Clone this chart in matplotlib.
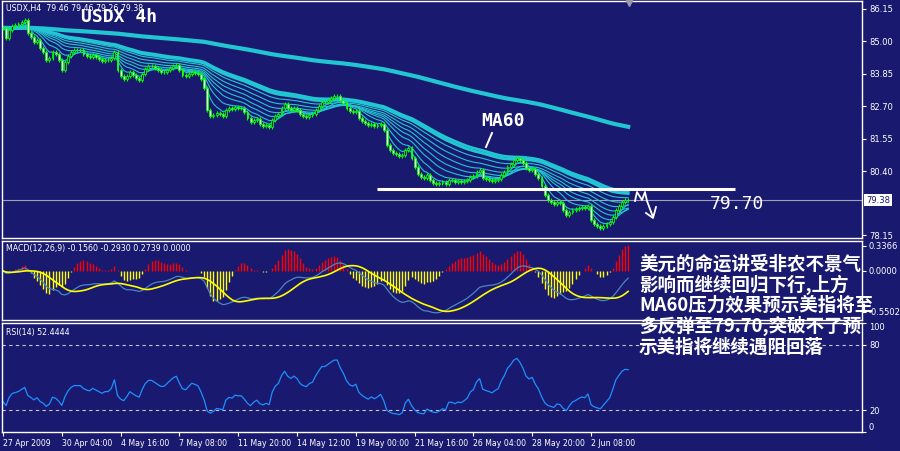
import numpy as np
import pandas as pd
import matplotlib
matplotlib.use('Agg')
import matplotlib.pyplot as plt
from matplotlib.lines import Line2D

# 4h closes of USDX, 27 Apr 2009 .. 3 Jun 2009
closes = [85.48, 85.12, 85.41, 85.55, 85.58, 85.62, 85.69, 85.76, 85.30, 85.16,
          84.98, 85.05, 84.77, 84.63, 84.35, 84.42, 84.63, 84.56, 84.35, 83.99,
          84.27, 84.49, 84.63, 84.70, 84.70, 84.70, 84.56, 84.49, 84.45, 84.52,
          84.45, 84.38, 84.31, 84.35, 84.35, 84.42, 84.63, 83.99, 83.78, 83.67,
          83.78, 83.92, 83.81, 83.71, 83.64, 83.85, 84.03, 84.13, 84.13, 84.06,
          83.99, 83.92, 83.92, 83.99, 84.06, 84.13, 84.17, 83.99, 83.81, 83.78,
          83.85, 83.92, 83.89, 83.85, 83.67, 83.35, 82.58, 82.36, 82.40, 82.47,
          82.43, 82.36, 82.58, 82.65, 82.61, 82.68, 82.65, 82.65, 82.50, 82.29,
          82.15, 82.22, 82.26, 82.08, 82.01, 82.04, 81.97, 82.22, 82.36, 82.43,
          82.65, 82.79, 82.65, 82.58, 82.65, 82.58, 82.43, 82.36, 82.33, 82.40,
          82.43, 82.58, 82.72, 82.86, 82.86, 82.93, 83.00, 83.07, 83.07, 82.93,
          82.82, 82.65, 82.54, 82.50, 82.54, 82.29, 82.19, 82.11, 82.04, 82.08,
          82.01, 82.04, 82.08, 81.87, 81.34, 81.16, 81.05, 81.02, 80.95, 80.98,
          81.16, 81.23, 80.88, 80.56, 80.31, 80.20, 80.17, 80.27, 80.10, 79.99,
          79.96, 79.99, 80.03, 79.96, 80.10, 80.10, 80.03, 80.06, 80.03, 80.06,
          80.10, 80.20, 80.24, 80.38, 80.45, 80.17, 80.13, 80.10, 80.06, 80.10,
          80.13, 80.27, 80.38, 80.56, 80.66, 80.81, 80.88, 80.81, 80.70, 80.52,
          80.45, 80.49, 80.31, 80.17, 79.88, 79.57, 79.39, 79.32, 79.25, 79.32,
          79.28, 79.04, 78.86, 78.96, 79.04, 79.07, 79.11, 79.14, 79.11, 79.18,
          78.68, 78.54, 78.47, 78.40, 78.47, 78.54, 78.61, 78.79, 79.04, 79.18,
          79.32, 79.39, 79.38]

date_ticks = [0, 19, 38, 57, 76, 95, 114, 133, 152, 171, 190]
date_labels = ['27 Apr 2009', '30 Apr 04:00', '4 May 16:00', '7 May 08:00',
               '11 May 20:00', '14 May 12:00', '19 May 00:00', '21 May 16:00',
               '26 May 04:00', '28 May 20:00', '2 Jun 08:00']
price_ticks = [86.15, 85.00, 83.85, 82.70, 81.55, 80.40, 78.15]
last_price = 79.38
resist_level = 79.77
macd_ticks = [0.3366, 0.0, -0.5502]
rsi_ticks = [100, 80, 20, 0]
rsi_levels = [80, 20]
fan_spans = [5, 10, 16, 22, 29, 37, 46]
thick_spans = [55, 60]
slow_span = 240
note_lines = ['美元的命运讲受非农不景气',
              '影响而继续回归下行,上方',
              'MA60压力效果预示美指将至',
              '多反弹至79.70,突破不了预',
              '示美指将继续遇阻回落']

BG = '#191970'
W, H = 900, 451


def fx(x):
    return x / W


def fy(y):
    return 1 - y / H


c = pd.Series(closes)
o = c.shift(1).fillna(c.iloc[0])
x = np.arange(len(c))
wick = 0.07

ema = lambda s, n: s.ewm(span=n, adjust=False).mean()
macd = ema(c, 12) - ema(c, 26)
signal = macd.rolling(9, min_periods=1).mean()
hist = 2 * (macd - signal)

# RSI(14), Wilder smoothing seeded with the mean of the first 14 moves
delta = c.diff()
gain = delta.clip(lower=0)
loss = -delta.clip(upper=0)
gain.iloc[0] = gain.iloc[1:15].mean()
loss.iloc[0] = loss.iloc[1:15].mean()
up = gain.ewm(alpha=1 / 14, adjust=False).mean()
dn = loss.ewm(alpha=1 / 14, adjust=False).mean()
rsi = 100 - 100 / (1 + up / dn)

fig = plt.figure(figsize=(9, 4.51), dpi=100, facecolor=BG)
ax = fig.add_axes([fx(2), fy(238), 860 / W, 237 / H])
ax_m = fig.add_axes([fx(2), fy(320), 860 / W, 79 / H])
ax_r = fig.add_axes([fx(2), fy(432), 860 / W, 109 / H])

for a in (ax, ax_m, ax_r):
    a.set_facecolor(BG)
    a.set_xlim(-0.32, 277.55)
    for sp in a.spines.values():
        sp.set_color('white')
        sp.set_linewidth(1)
    a.yaxis.tick_right()
    a.tick_params(axis='y', colors='white', labelsize=6, length=3, pad=2, width=0.8)
    a.tick_params(axis='x', bottom=False, labelbottom=False)

# main panel
cyan = '#22c6d2'
for n in fan_spans:
    ax.plot(x, ema(c, n), color=cyan, lw=0.8, zorder=2)
for n in thick_spans:
    ax.plot(x, ema(c, n), color=cyan, lw=2.0, zorder=2)
ax.plot(x, ema(c, slow_span), color=cyan, lw=3.0, zorder=2)

hi = np.maximum(o, c) + wick
lo = np.minimum(o, c) - wick
ax.vlines(x, lo, hi, color='#00ff00', lw=0.8, zorder=3)
fill = np.where(c < o, 'white', BG)
ax.bar(x, c - o, bottom=o, width=0.62, color=fill, edgecolor='#00ff00', lw=0.6, zorder=4)

ax.axhline(last_price, color='#a0a0b4', lw=0.8, zorder=1)
ax.hlines(resist_level, 120.8, 236.5, color='white', lw=2.2, zorder=5)
ax.set_ylim(78.044, 86.43)
ax.set_yticks(price_ticks)
ax.set_yticklabels(['%.2f' % p for p in price_ticks])
ax.text(1.0 + 4 / 860, last_price, '%.2f' % last_price, transform=ax.get_yaxis_transform(),
        fontsize=6, color=BG, va='center', ha='left',
        bbox=dict(facecolor='white', edgecolor='none', pad=1.2))

# MACD panel
ax_m.vlines(x, 0, hist, colors=np.where(hist > 0, '#ff0000', '#ffff00'), lw=1.0)
ax_m.plot(x, macd, color='#4a86c0', lw=0.9)
ax_m.plot(x, signal, color='#ffff00', lw=1.2)
ax_m.set_ylim(-0.659, 0.403)
ax_m.set_yticks(macd_ticks)
ax_m.set_yticklabels(['%.4f' % v for v in macd_ticks])

# RSI panel
for lv in rsi_levels:
    ax_r.axhline(lv, color='#c8c8d0', lw=0.8, ls=(0, (3, 3)))
ax_r.plot(x, rsi, color='#1e90ff', lw=0.9)
ax_r.set_ylim(0, 100)
ax_r.set_yticks(rsi_ticks)
ax_r.set_yticklabels([str(v) for v in rsi_ticks])
ylabs = ax_r.get_yticklabels()
ylabs[0].set_va('top')
ylabs[-1].set_va('bottom')
ax_r.set_xticks(date_ticks)
ax_r.set_xticklabels(date_labels)
ax_r.tick_params(axis='x', bottom=True, labelbottom=True, colors='white',
                 labelsize=5.6, length=3, pad=2, width=0.8)
for lab in ax_r.get_xticklabels():
    lab.set_ha('left')

# texts
small = dict(color='white', fontsize=5.7, va='center', ha='left')
fig.text(fx(6), fy(9), 'USDX,H4  79.46 79.46 79.26 79.38', **small)
fig.text(fx(6), fy(249), 'MACD(12,26,9) -0.1560 -0.2930 0.2739 0.0000', **small)
fig.text(fx(6), fy(332), 'RSI(14) 52.4444', **small)
mono = dict(color='white', family='DejaVu Sans Mono', va='center', ha='left')
fig.text(fx(81), fy(17), 'USDX 4h', fontsize=13, weight='bold', **mono)
fig.text(fx(481), fy(121), 'MA60', fontsize=13, weight='bold', **mono)
fig.text(fx(710), fy(204), '79.70', fontsize=13, **mono)

fig.add_artist(Line2D([fx(486), fx(492)], [fy(147), fy(133)], color='white', lw=1.4,
                      transform=fig.transFigure))
fig.add_artist(Line2D([fx(xx) for xx in (635, 637, 642, 645, 647, 653)],
                      [fy(yy) for yy in (201, 192, 200, 192, 201, 217)],
                      color='white', lw=1.3, transform=fig.transFigure))
fig.add_artist(Line2D([fx(xx) for xx in (646, 653, 656)],
                      [fy(yy) for yy in (213, 218, 207)],
                      color='white', lw=1.3, transform=fig.transFigure))
fig.add_artist(Line2D([fx(629)], [fy(3)], marker='v', ms=5, color='#9a9aaa',
                      transform=fig.transFigure))

for k, line in enumerate(note_lines):
    fig.text(fx(639), fy(264 + 20.7 * k), line, color='white', fontsize=13.3, weight='bold',
             family=['Noto Sans CJK SC', 'DejaVu Sans'], va='center', ha='left', zorder=10)

fig.savefig('out.png', dpi=100, facecolor=BG)
